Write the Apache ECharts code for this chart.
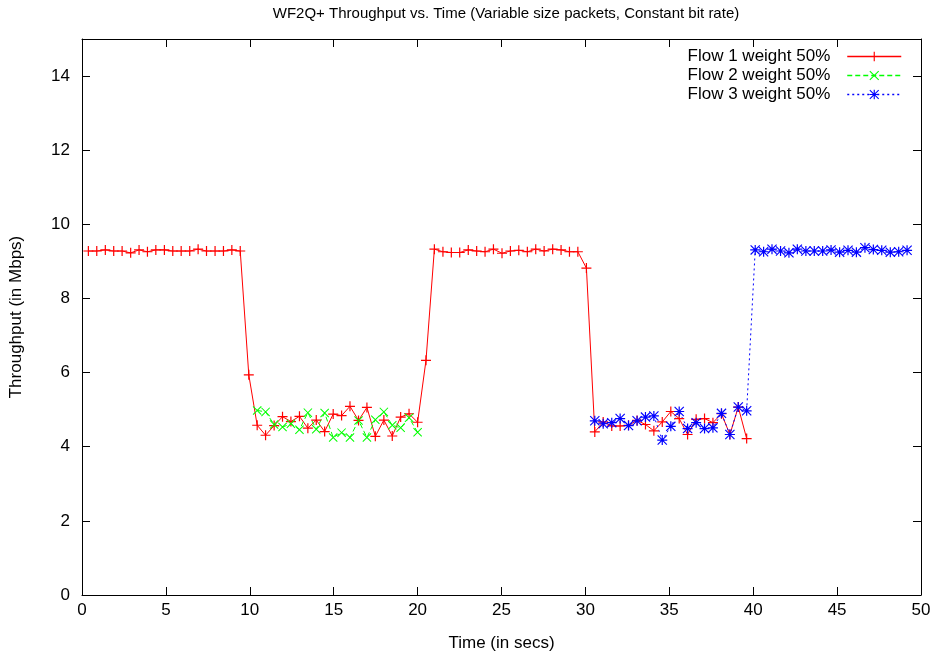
<!DOCTYPE html>
<html>
<head>
<meta charset="utf-8">
<script src="https://cdn.jsdelivr.net/npm/echarts@6/dist/echarts.min.js"></script>
<style>html,body{margin:0;padding:0;background:#fff}#c{width:937px;height:657px}</style>
</head>
<body>
<div id="c"></div>
<script>
// Sample times (secs)
var times = [0.38,0.88,1.39,1.89,2.39,2.90,3.40,3.90,4.40,4.91,5.41,5.91,6.42,6.92,7.42,7.93,8.43,8.93,9.43,9.94,
  10.44,10.94,11.45,11.95,12.45,12.96,13.46,13.96,14.46,14.97,15.47,15.97,16.48,16.98,17.48,17.99,18.49,18.99,19.49,20.00,
  20.50,21.00,21.51,22.01,22.51,23.02,23.52,24.02,24.52,25.03,25.53,26.03,26.54,27.04,27.54,28.05,28.55,29.05,29.55,30.06,
  30.56,31.06,31.57,32.07,32.57,33.08,33.58,34.08,34.58,35.09,35.59,36.09,36.60,37.10,37.60,38.11,38.61,39.11,39.61,
  40.12,40.62,41.12,41.63,42.13,42.63,43.14,43.64,44.14,44.64,45.15,45.65,46.15,46.66,47.16,47.66,48.17,48.67,49.17];
// Flow 1: samples 0..78
var flow1 = [9.28,9.28,9.31,9.28,9.28,9.23,9.31,9.26,9.31,9.31,9.28,9.28,9.28,9.33,9.28,9.28,9.28,9.31,9.28,
  5.94,4.58,4.31,4.57,4.81,4.68,4.82,4.50,4.72,4.41,4.88,4.84,5.09,4.71,5.06,4.28,4.72,4.29,4.80,4.89,4.66,6.33,
  9.33,9.26,9.24,9.24,9.31,9.28,9.26,9.33,9.22,9.28,9.30,9.26,9.33,9.28,9.33,9.31,9.26,9.26,8.82,
  4.40,4.67,4.56,4.56,4.58,4.71,4.60,4.43,4.67,4.95,4.76,4.33,4.74,4.76,4.65,4.89,4.33,5.07,4.22];
var flow1Start = 0;
// Flow 2: samples 20..39
var flow2 = [4.98,4.94,4.60,4.53,4.62,4.46,4.92,4.47,4.91,4.25,4.38,4.25,4.71,4.25,4.73,4.94,4.58,4.51,4.78,4.39];
var flow2Start = 20;
// Flow 3: samples 60..97
var flow3 = [4.70,4.62,4.65,4.76,4.57,4.70,4.80,4.83,4.18,4.55,4.95,4.49,4.65,4.49,4.51,4.90,4.33,5.07,4.97,
  9.31,9.26,9.33,9.28,9.23,9.33,9.28,9.28,9.28,9.31,9.25,9.30,9.25,9.37,9.32,9.30,9.25,9.26,9.30];
var flow3Start = 60;
var seriesNames = ['Flow 1 weight 50%','Flow 2 weight 50%','Flow 3 weight 50%'];
var xTicks = {min:0, max:50, interval:5};
var yTicks = {min:0, max:15, interval:2};

function pairs(vals, start){ return vals.map(function(v,i){ return [times[start+i], v]; }); }

var PLUS = 'path://M4.4,0 L5.6,0 L5.6,10 L4.4,10 Z M0,4.4 L10,4.4 L10,5.6 L0,5.6 Z';
var CROSS = 'path://M0,0.8 L0.8,0 L10,9.2 L9.2,10 Z M10,0.8 L0.8,10 L0,9.2 L9.2,0 Z';
var STAR = 'path://M4.4,0 L5.6,0 L5.6,10 L4.4,10 Z M0,4.4 L10,4.4 L10,5.6 L0,5.6 Z M0,0.8 L0.8,0 L10,9.2 L9.2,10 Z M10,0.8 L0.8,10 L0,9.2 L9.2,0 Z';

var FONT = 'Liberation Sans';
var chart = echarts.init(document.getElementById('c'), null, {renderer:'canvas'});
var axisCommon = {
  axisLine:{show:true, onZero:false, lineStyle:{color:'#000', width:1}},
  axisTick:{show:true, inside:true, length:8, lineStyle:{color:'#000', width:1}},
  splitLine:{show:false}
};
chart.setOption({
  animation:false,
  backgroundColor:'#fff',
  title:{text:'WF2Q+ Throughput vs. Time (Variable size packets, Constant bit rate)', left:501, textAlign:'center', top:1,
    textStyle:{fontFamily:FONT, fontSize:15, fontWeight:'normal', color:'#000'}},
  legend:{orient:'vertical', right:35, top:48, align:'right', itemWidth:54, itemHeight:12, itemGap:2, padding:0,
    lineStyle:{width:1.5},
    textStyle:{fontFamily:FONT, fontSize:17, color:'#000', lineHeight:17, padding:[0,12,0,0]},
    data:seriesNames},
  grid:{left:81, right:16, top:39, bottom:60},
  xAxis:[
    Object.assign({type:'value', position:'bottom', min:xTicks.min, max:xTicks.max, interval:xTicks.interval,
      name:'Time (in secs)', nameLocation:'middle', nameGap:40,
      nameTextStyle:{fontFamily:FONT, fontSize:17, color:'#000'},
      axisLabel:{fontFamily:FONT, fontSize:17, color:'#000', margin:7}}, axisCommon),
    Object.assign({type:'value', position:'top', min:xTicks.min, max:xTicks.max, interval:xTicks.interval,
      axisLabel:{show:false}}, axisCommon)
  ],
  yAxis:[
    Object.assign({type:'value', position:'left', min:yTicks.min, max:yTicks.max, interval:yTicks.interval,
      name:'Throughput (in Mbps)', nameLocation:'middle', nameGap:57,
      nameTextStyle:{fontFamily:FONT, fontSize:17, color:'#000'},
      axisLabel:{fontFamily:FONT, fontSize:17, color:'#000', margin:12,
        formatter:function(v){ return v % 2 === 0 ? String(v) : ''; }}}, axisCommon),
    Object.assign({type:'value', position:'right', min:yTicks.min, max:yTicks.max, interval:yTicks.interval,
      axisLabel:{show:false}}, axisCommon)
  ],
  series:[
    {name:seriesNames[0], type:'line', data:pairs(flow1, flow1Start), symbol:PLUS, symbolSize:10, showAllSymbol:true,
      color:'#ff0000', lineStyle:{width:1, color:'#ff0000'}, itemStyle:{color:'#ff0000'}},
    {name:seriesNames[1], type:'line', data:pairs(flow2, flow2Start), symbol:CROSS, symbolSize:9, showAllSymbol:true,
      color:'#00ff00', lineStyle:{width:1, color:'#00ff00', type:[5,3]}, itemStyle:{color:'#00ff00'}},
    {name:seriesNames[2], type:'line', data:pairs(flow3, flow3Start), symbol:STAR, symbolSize:10, showAllSymbol:true,
      color:'#0000ff', lineStyle:{width:1, color:'#0000ff', type:[2,3]}, itemStyle:{color:'#0000ff'}}
  ]
});
</script>
</body>
</html>
